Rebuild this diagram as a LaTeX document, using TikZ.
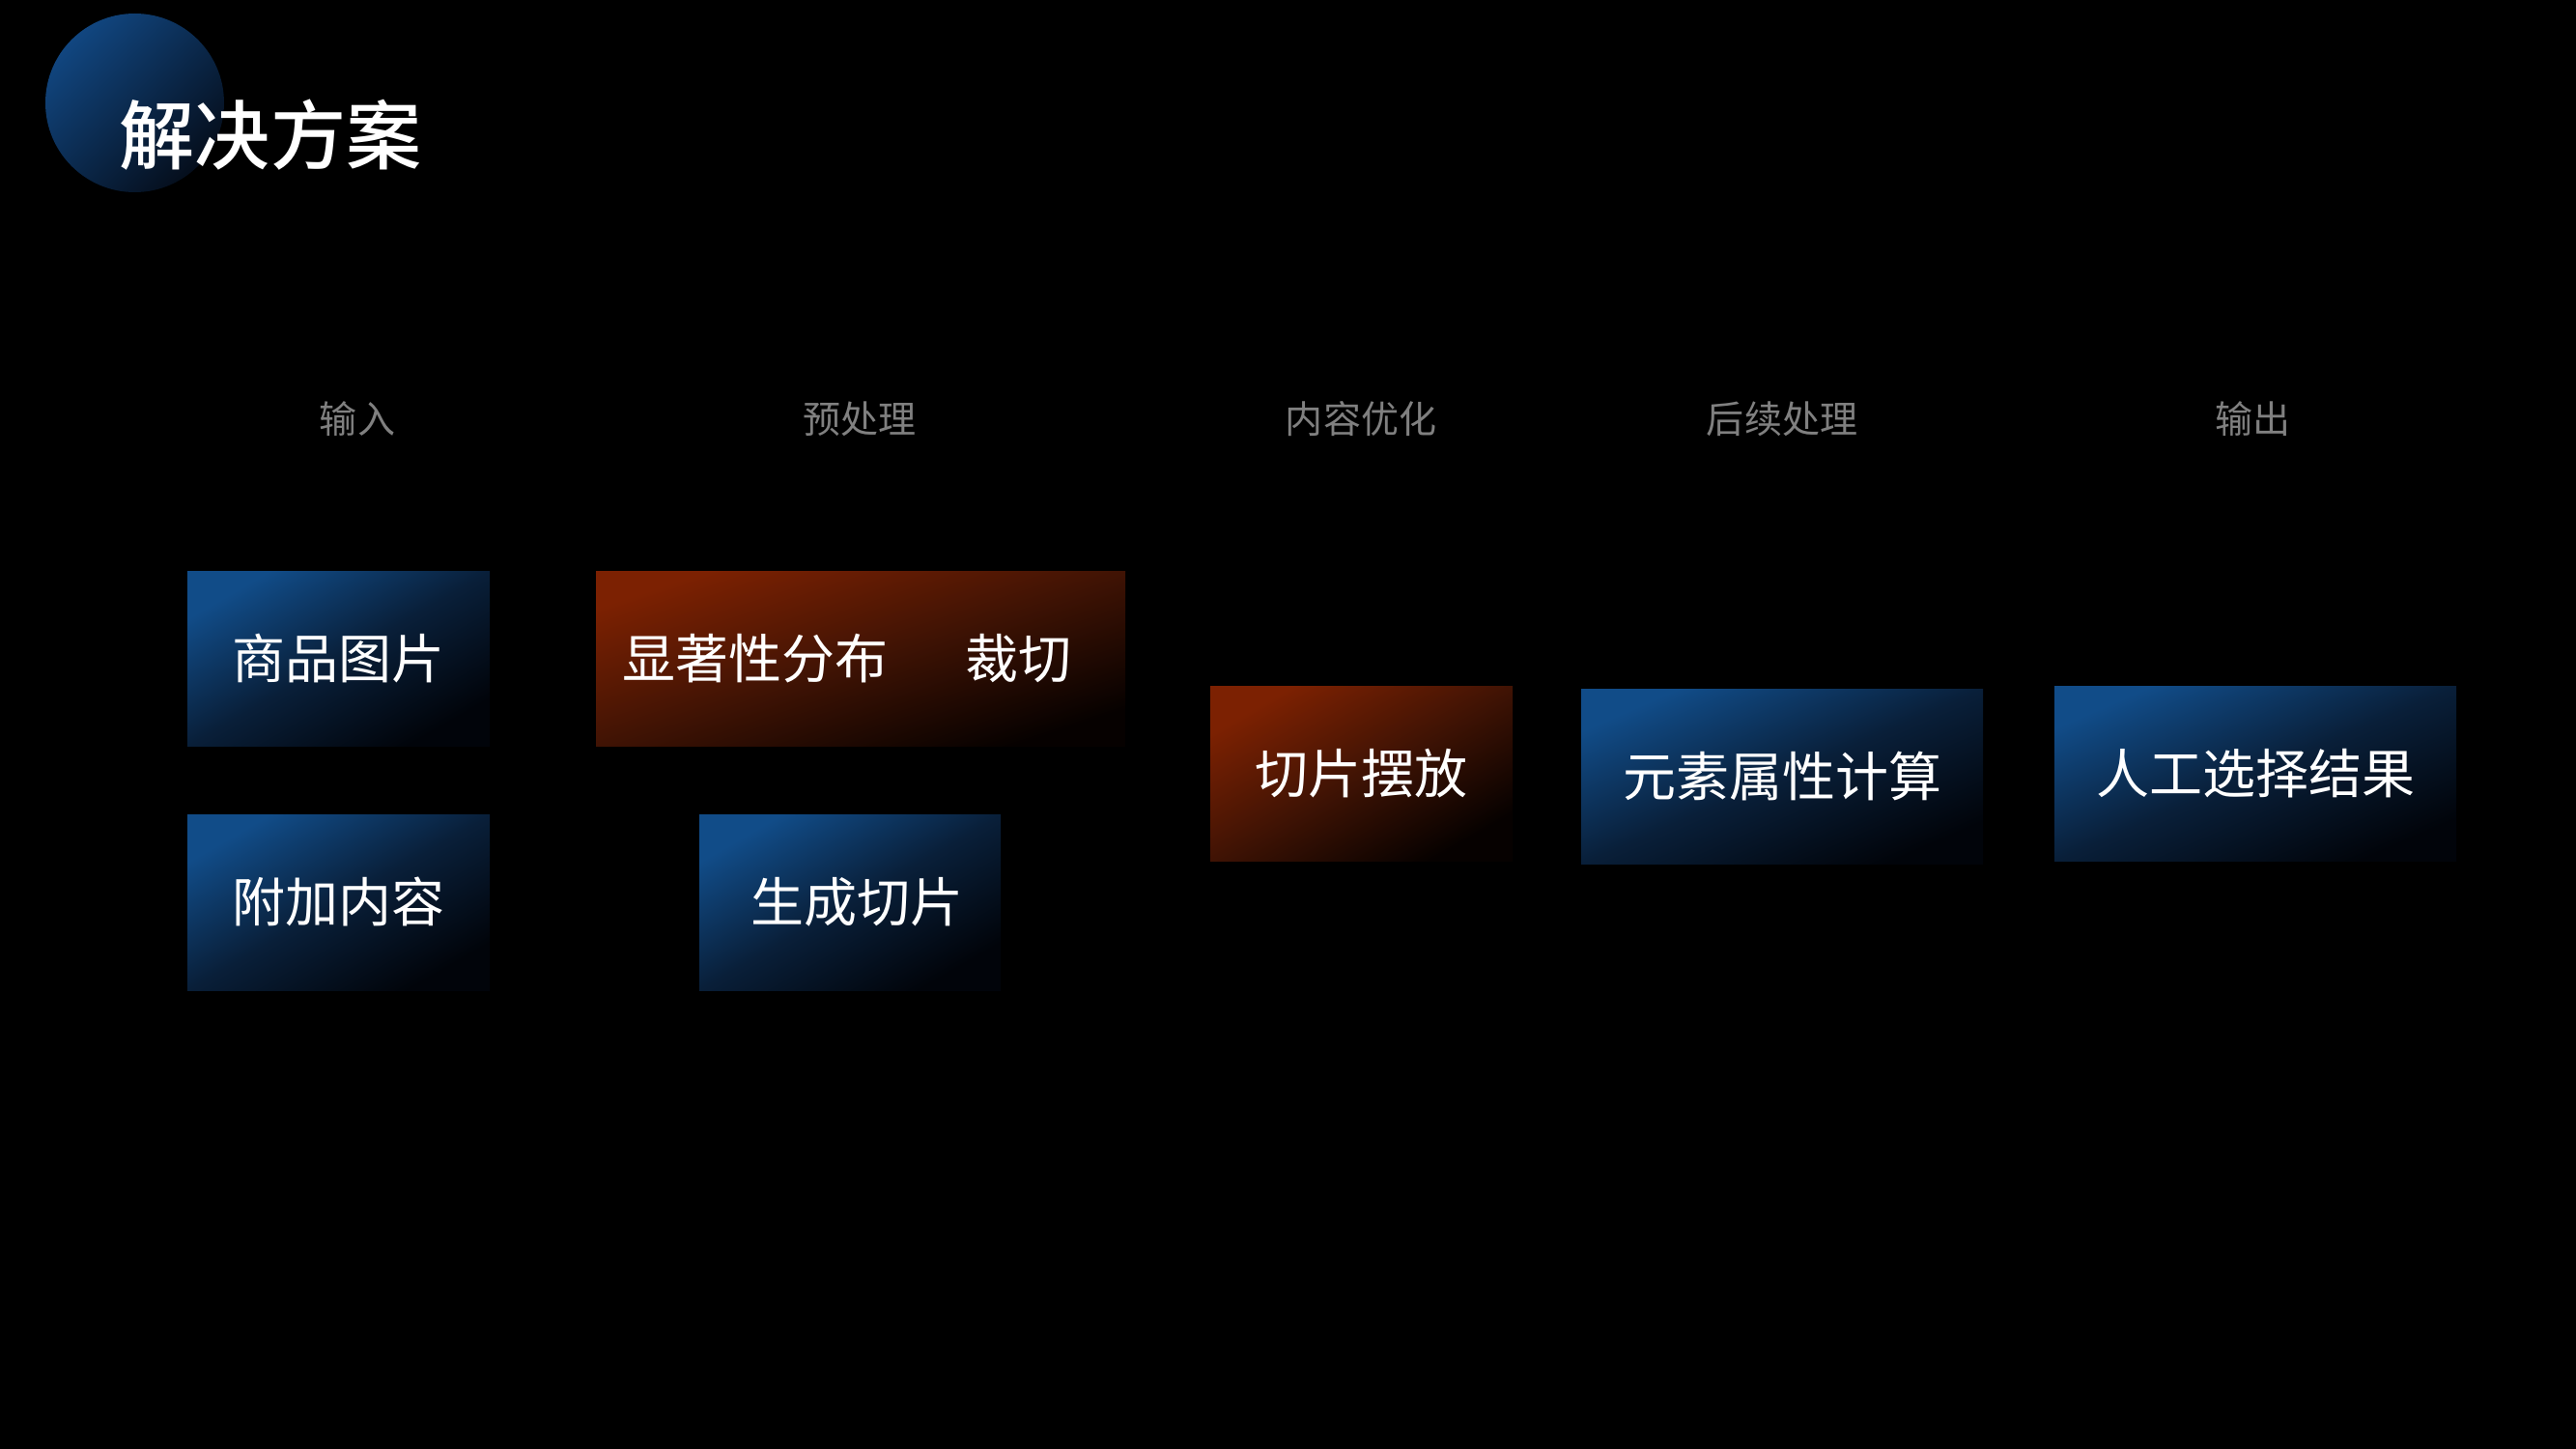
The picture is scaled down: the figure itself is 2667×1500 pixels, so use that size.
\documentclass[tikz,border=0pt]{standalone}
\usepackage{fontspec}
\newfontfamily\cjk{Noto Sans CJK SC}
\newfontfamily\cjkmed[UprightFont={* Medium}]{Noto Sans CJK SC}
\definecolor{bluetop}{RGB}{17,76,136}
\definecolor{bluemid}{RGB}{9,31,57}
\definecolor{bluebot}{RGB}{1,4,10}
\definecolor{orgtop}{RGB}{124,33,2}
\definecolor{orgmid}{RGB}{64,19,4}
\definecolor{orgbot}{RGB}{6,1,0}
\definecolor{hdrgray}{RGB}{128,128,128}
\definecolor{circtop}{RGB}{17,70,128}
\definecolor{circbot}{RGB}{5,14,28}
\tikzset{
  boxtext/.style={inner sep=0pt, text=white, font=\cjk\fontsize{15.65pt}{18pt}\selectfont,
    text height=4.84mm, text depth=0.66mm},
  bluebox/.style={boxtext, shade, top color=bluetop, bottom color=bluebot, middle color=bluemid, shading angle=#1},
  orgbox/.style={boxtext, shade, top color=orgtop, bottom color=orgbot, middle color=orgmid, shading angle=#1},
  header/.style={inner sep=0pt, text=hdrgray, font=\cjk\fontsize{11.1pt}{13pt}\selectfont,
    text height=3.43mm, text depth=0.47mm},
  titletext/.style={inner sep=0pt, text=white, font=\cjkmed\fontsize{22.2pt}{26pt}\selectfont,
    text height=6.86mm, text depth=0.94mm}
}
\begin{document}
\begin{tikzpicture}[x=0.1mm,y=-0.1mm]
\fill[black] (0,0) rectangle (2667,1500);
\useasboundingbox (0,0) rectangle (2667,1500);
% title
\node[circle, minimum size=18.5mm, inner sep=0pt, shade, top color=circtop, bottom color=circbot, shading angle=45] (circ) at (139.5,106.5) {};
\node[titletext] (title) at (280,139.5) {解决方案};
% headers
\node[header] (h1) at (370,434) {输入};
\node[header] (h2) at (890,434) {预处理};
\node[header] (h3) at (1409,434) {内容优化};
\node[header] (h4) at (1845,434) {后续处理};
\node[header] (h5) at (2332,434) {输出};
% boxes
\node[bluebox=30, minimum width=31.3mm, minimum height=18.1mm] (b1) at (350.5,681.5) {商品图片};
\node[bluebox=30, minimum width=31.3mm, minimum height=18.2mm] (b2) at (350.5,934) {附加内容};
\node[orgbox=18.3, minimum width=54.8mm, minimum height=18.1mm] (b3) at (891,681.5) {显著性分布\kern1.46em 裁切\kern2.8mm};
\node[bluebox=30, minimum width=31.2mm, minimum height=18.2mm] (b4) at (880,934) {\hspace{1.4mm}生成切片};
\node[orgbox=30, minimum width=31.3mm, minimum height=18.1mm] (b5) at (1409.5,800.5) {切片摆放};
\node[bluebox=23.5, minimum width=41.6mm, minimum height=18.1mm] (b6) at (1845,803.5) {元素属性计算};
\node[bluebox=23.5, minimum width=41.6mm, minimum height=18.1mm] (b7) at (2335,800.5) {人工选择结果};
\end{tikzpicture}
\end{document}
